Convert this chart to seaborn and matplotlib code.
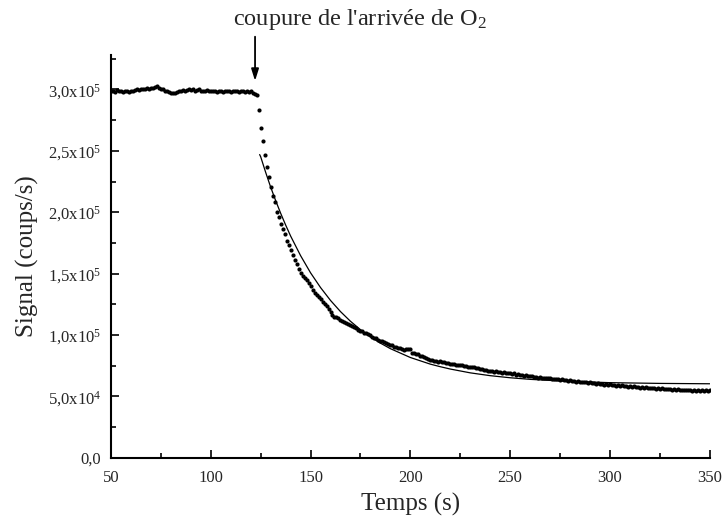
import matplotlib
matplotlib.use('Agg')
import matplotlib.pyplot as plt
from matplotlib.ticker import MultipleLocator, FixedLocator
import numpy as np
import pandas as pd
import seaborn as sns

# Signal mesuré (milliers de coups/s), un point par seconde de 50 s à 350 s
signal_plateau = [
    298.5, 299, 298, 299.5, 298.5, 299, 298, 298.5, 299, 298,
    298.5, 299, 299.5, 300, 299.5, 300, 300.5, 300, 301, 300.5,
    301, 301.5, 302, 302.5, 301.5, 300.5, 300, 299, 298.5, 298,
    297.5, 297, 297.5, 298, 298.5, 299, 299.5, 299, 299.5, 300,
    299.5, 300, 299, 299.5, 300, 299, 298.5, 299, 299.5, 298.5,
    299, 298.5, 299, 298, 298.5, 299, 298, 298.5, 299, 298.5,
    298, 298.5, 299, 298.5, 298, 298.5, 299, 298, 298.5, 298,
    298.5, 297.5, 296.5, 295.5,
]
signal_chute = [
    283.4, 269.0, 258.4, 246.7, 237.2, 228.6, 220.9, 213.3, 208.7, 200.5,
    196.4, 190.5, 186.0, 182.0, 177.0, 173.0, 169.0, 165.0, 161.0, 157.5,
    154.0, 150.5, 148.0, 146.5, 145.0, 142.0, 140.0, 137.0, 134.5, 132.5,
    131.0, 129.0, 127.0, 125.5, 123.5, 121.5, 119.0, 116.0, 115.0, 114.5,
    113.5, 112.5, 111.5, 111.0, 110.0, 109.0, 108.5, 107.5, 106.5, 105.5,
    104.5, 103.5, 103.0, 102.0, 101.3, 100.5,
]
signal_queue = [
    99.7, 98.5, 97.8, 97.5, 96.2, 95.0, 95.3, 94.0, 93.6, 92.4,
    91.8, 91.5, 90.4, 90.3, 89.4, 89.2, 88.3, 88.2, 88.7, 88.8,
    88.6, 85.3, 85.2, 84.2, 84.3, 83.0, 82.9, 81.8, 81.4, 80.4,
    79.8, 79.9, 79.0, 79.2, 78.4, 78.5, 77.8, 77.8, 77.2, 77.0,
    76.8, 76.3, 76.6, 75.8, 75.9, 75.3, 75.4, 74.6, 74.9, 74.1,
    74.1, 73.6, 73.6, 72.9, 73.0, 72.2, 72.4, 71.5, 71.7, 70.9,
    70.8, 70.9, 70.1, 70.5, 69.6, 69.9, 69.2, 69.6, 68.8, 69.1,
    68.7, 68.3, 68.7, 67.8, 68.2, 67.5, 67.8, 67.0, 67.4, 66.6,
    66.5, 66.6, 65.8, 66.2, 65.4, 65.8, 65.0, 65.4, 64.6, 64.9,
    64.6, 64.2, 64.5, 63.8, 64.1, 63.4, 63.8, 63.0, 63.4, 62.7,
    63.0, 62.4, 62.7, 62.0, 62.5, 61.7, 62.1, 61.5, 61.8, 61.1,
    61.5, 60.8, 61.2, 60.4, 60.9, 60.1, 60.5, 59.7, 60.2, 59.4,
    59.9, 59.1, 59.5, 58.8, 59.2, 58.4, 58.9, 58.2, 58.6, 57.9,
    58.4, 57.6, 58.1, 57.4, 57.8, 57.1, 57.6, 57.0, 57.4, 56.7,
    57.2, 56.5, 57.0, 56.3, 56.8, 56.1, 56.5, 55.9, 56.3, 55.7,
    56.1, 55.5, 55.9, 55.3, 55.7, 55.1, 55.6, 55.0, 55.4, 54.9,
    55.3, 54.8, 55.2, 54.7, 55.1, 54.8, 55.0, 54.7, 55.0, 54.8,
    55.0,
]

# Ajustement exponentiel (courbe continue)
temps_fit = [124.5, 125, 127.5, 130, 132.5, 135, 137.5, 140, 145, 150, 155, 160,
             165, 170, 175, 180, 185, 190, 200, 210, 215, 220, 230, 240, 250,
             260, 275, 300, 325, 350]
signal_fit = [247.0, 245.3, 232.6, 220.6, 209.6, 199.3, 189.7, 180.7, 164.7, 150.7,
              138.7, 128.2, 119.1, 111.2, 104.4, 98.5, 93.4, 88.9, 81.7, 76.3,
              74.2, 72.3, 69.2, 66.9, 65.2, 63.9, 62.6, 61.2, 60.6, 60.3]

signal = signal_plateau + signal_chute + signal_queue
temps = np.arange(50, 50 + len(signal))
df = pd.DataFrame({'temps': temps, 'signal': np.array(signal) * 1e3})
df_fit = pd.DataFrame({'temps': temps_fit, 'signal': np.array(signal_fit) * 1e3})

sns.set_style('ticks')
plt.rcParams['font.family'] = ['Liberation Serif', 'DejaVu Serif']
plt.rcParams['mathtext.fontset'] = 'custom'
plt.rcParams['mathtext.rm'] = 'Liberation Serif'
plt.rcParams['mathtext.it'] = 'Liberation Serif:italic'

fig = plt.figure(figsize=(7.25, 5.25), dpi=100)
ax = fig.add_axes([0.153, 0.128, 0.826, 0.767])

sns.scatterplot(data=df, x='temps', y='signal', color='black', s=9,
                linewidth=0, ax=ax, zorder=3)
sns.lineplot(data=df_fit, x='temps', y='signal', color='black', linewidth=0.9,
             sort=False, estimator=None, ax=ax)

ax.set_xlim(50, 350)
ax.set_ylim(0, 3.28e5)

ax.xaxis.set_major_locator(MultipleLocator(50))
ax.xaxis.set_minor_locator(MultipleLocator(25))
ax.yaxis.set_major_locator(FixedLocator([0, 5e4, 1e5, 1.5e5, 2e5, 2.5e5, 3e5]))
ax.yaxis.set_minor_locator(MultipleLocator(2.5e4))
ax.set_yticklabels(['0,0', r'5,0x10$^{4}$', r'1,0x10$^{5}$', r'1,5x10$^{5}$',
                    r'2,0x10$^{5}$', r'2,5x10$^{5}$', r'3,0x10$^{5}$'])

ax.tick_params(which='both', direction='in', width=1.2, labelsize=12, color='black')
ax.tick_params(which='major', length=6)
ax.tick_params(which='minor', length=3.5)
ax.tick_params(axis='x', pad=9)
ax.tick_params(axis='y', pad=7)

sns.despine(ax=ax)
for s in ['left', 'bottom']:
    ax.spines[s].set_linewidth(1.5)
    ax.spines[s].set_color('black')

ax.set_xlabel('Temps (s)', fontsize=18, labelpad=5)
ax.set_ylabel('Signal (coups/s)', fontsize=18, labelpad=6)

# Flèche : coupure de l'arrivée d'oxygène
ax.annotate('', xy=(122.2, 3.07e5), xytext=(122.2, 3.43e5),
            arrowprops=dict(arrowstyle='-|>,head_width=0.22,head_length=0.7',
                            color='black', lw=1.3, mutation_scale=10,
                            shrinkA=0, shrinkB=0),
            annotation_clip=False)
fig.text(360 / 725, 1 - 20 / 525, "coupure de l'arrivée de O$_2$",
         fontsize=17.5, ha='center', va='center')

fig.savefig('out.png', dpi=100)
